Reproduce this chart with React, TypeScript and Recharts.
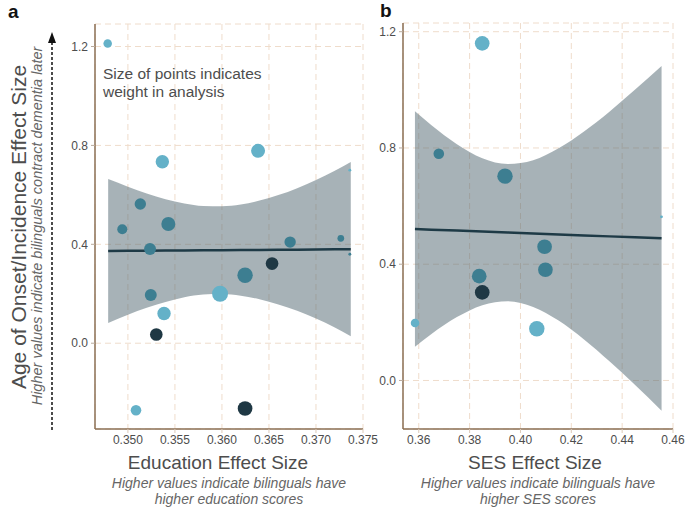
import React from 'react';
import { ComposedChart, Area, Line, Scatter, XAxis, YAxis, CartesianGrid } from 'recharts';

const FONT = '"Liberation Sans", Arial, Helvetica, sans-serif';

// panel a: education effect size vs age of onset effect size
const eduTicksX = [0.35, 0.355, 0.36, 0.365, 0.37, 0.375];
const eduBandX = [0.3479, 0.35, 0.352, 0.354, 0.356, 0.358, 0.36, 0.362, 0.364, 0.366, 0.368, 0.37, 0.372, 0.3737];
const eduBandLow = [0.082, 0.115, 0.143, 0.167, 0.186, 0.197, 0.199, 0.192, 0.178, 0.157, 0.131, 0.1, 0.064, 0.028];
const eduBandHigh = [0.664, 0.633, 0.605, 0.582, 0.565, 0.555, 0.554, 0.561, 0.577, 0.599, 0.627, 0.66, 0.697, 0.733];
const eduFit = [0.373, 0.3736, 0.3741, 0.3747, 0.3752, 0.3757, 0.3763, 0.3768, 0.3774, 0.3779, 0.3784, 0.379, 0.3795, 0.38];

const eduLight = [
  { x: 0.34785, y: 1.212, w: 2.6 },
  { x: 0.35366, y: 0.734, w: 6.4 },
  { x: 0.36384, y: 0.778, w: 7 },
  { x: 0.3598, y: 0.2, w: 9.1 },
  { x: 0.35384, y: 0.12, w: 6.4 },
  { x: 0.35086, y: -0.271, w: 4 },
  { x: 0.3736, y: 0.7, w: 0.3 },
];
const eduTeal = [
  { x: 0.35132, y: 0.563, w: 4.6 },
  { x: 0.3494, y: 0.461, w: 3.6 },
  { x: 0.3543, y: 0.482, w: 7 },
  { x: 0.35235, y: 0.381, w: 5.1 },
  { x: 0.36725, y: 0.409, w: 4.6 },
  { x: 0.36246, y: 0.275, w: 8.5 },
  { x: 0.35243, y: 0.195, w: 5.1 },
  { x: 0.37264, y: 0.424, w: 1.6 },
  { x: 0.3736, y: 0.36, w: 0.3 },
];
const eduDark = [
  { x: 0.36533, y: 0.322, w: 5.7 },
  { x: 0.35302, y: 0.035, w: 5.7 },
  { x: 0.36246, y: -0.264, w: 7.7 },
];

// panel b: SES effect size
const sesTicksX = [0.36, 0.38, 0.4, 0.42, 0.44, 0.46];
const sesBandX = [0.3585, 0.365, 0.375, 0.385, 0.395, 0.405, 0.415, 0.425, 0.435, 0.445, 0.4555];
const sesBandLow = [0.116, 0.16, 0.218, 0.259, 0.273, 0.253, 0.206, 0.141, 0.066, -0.015, -0.104];
const sesBandHigh = [0.926, 0.878, 0.813, 0.765, 0.745, 0.758, 0.799, 0.857, 0.925, 1.0, 1.082];
const sesFit = [0.521, 0.5189, 0.5156, 0.5123, 0.509, 0.5057, 0.5024, 0.4991, 0.4958, 0.4925, 0.489];

const sesLight = [
  { x: 0.38496, y: 1.16, w: 7.7 },
  { x: 0.45546, y: 0.563, w: 0.3 },
  { x: 0.35853, y: 0.198, w: 2.6 },
  { x: 0.40643, y: 0.178, w: 8.5 },
];
const sesTeal = [
  { x: 0.36788, y: 0.78, w: 4 },
  { x: 0.39392, y: 0.703, w: 8.5 },
  { x: 0.40949, y: 0.46, w: 7.7 },
  { x: 0.40982, y: 0.381, w: 7.7 },
  { x: 0.38378, y: 0.359, w: 7.7 },
];
const sesDark = [{ x: 0.38496, y: 0.303, w: 7.7 }];

const yTicks = [0, 0.4, 0.8, 1.2];

const LIGHT = '#64b1c8';
const TEAL = '#3d7e91';
const DARK = '#1f3844';
const AXIS = '#8b6f55';
const TEXT = '#4d4d4d';

const radius = (w: number) => Math.sqrt(w * 7);

function dot(color: string) {
  return (p: any) => <circle cx={p.cx} cy={p.cy} r={radius(p.payload.w)} fill={color} />;
}

function buildRows(xs: number[], lo: number[], hi: number[], fit: number[]) {
  return xs.map((x, i) => ({ x, range: [lo[i], hi[i]], fit: fit[i] }));
}

interface PanelProps {
  rows: any[];
  light: any[];
  teal: any[];
  dark: any[];
  xDomain: [number, number];
  xTicks: number[];
  xDigits: number;
  yDomain: [number, number];
  width: number;
  margin: { top: number; right: number; bottom: number; left: number };
}

function Panel({ rows, light, teal, dark, xDomain, xTicks, xDigits, yDomain, width, margin }: PanelProps) {
  const tick = { fontSize: 12, fill: TEXT, fontFamily: FONT };
  return (
    <ComposedChart width={width} height={510} data={rows} margin={margin}>
      <CartesianGrid strokeDasharray="6 4" stroke="#efdccb" />
      <XAxis
        type="number"
        dataKey="x"
        domain={xDomain}
        ticks={xTicks}
        interval={0}
        allowDataOverflow
        tickFormatter={(v) => v.toFixed(xDigits)}
        tick={tick}
        tickSize={4}
        tickMargin={2}
        tickLine={{ stroke: '#dccab9' }}
        axisLine={{ stroke: AXIS, strokeWidth: 1.5 }}
        height={20}
      />
      <YAxis
        type="number"
        domain={yDomain}
        ticks={yTicks}
        interval={0}
        allowDataOverflow
        tickFormatter={(v) => v.toFixed(1)}
        tick={tick}
        tickSize={4}
        tickMargin={3}
        tickLine={{ stroke: '#b9aa9c' }}
        axisLine={{ stroke: AXIS, strokeWidth: 1.5 }}
        width={40}
      />
      <Area
        dataKey="range"
        type="monotone"
        stroke="none"
        fill="#4f6570"
        fillOpacity={0.5}
        dot={false}
        activeDot={false}
        isAnimationActive={false}
      />
      <Line
        dataKey="fit"
        type="linear"
        stroke="#1e3a46"
        strokeWidth={2.5}
        dot={false}
        activeDot={false}
        isAnimationActive={false}
      />
      <Scatter data={light} dataKey="y" shape={dot(LIGHT)} isAnimationActive={false} />
      <Scatter data={teal} dataKey="y" shape={dot(TEAL)} isAnimationActive={false} />
      <Scatter data={dark} dataKey="y" shape={dot(DARK)} isAnimationActive={false} />
    </ComposedChart>
  );
}

export default function App() {
  const eduRows = buildRows(eduBandX, eduBandLow, eduBandHigh, eduFit);
  const sesRows = buildRows(sesBandX, sesBandLow, sesBandHigh, sesFit);
  return (
    <div style={{ position: 'absolute', left: 0, top: 0, width: 685, height: 510, background: '#fff', overflow: 'hidden' }}>
      <div style={{ position: 'absolute', left: 0, top: 0 }}>
        <Panel
          rows={eduRows}
          light={eduLight}
          teal={eduTeal}
          dark={eduDark}
          xDomain={[0.3465, 0.375]}
          xTicks={eduTicksX}
          xDigits={3}
          yDomain={[-0.347, 1.291]}
          width={380}
          margin={{ top: 24, right: 17, bottom: 61, left: 55 }}
        />
      </div>
      <div style={{ position: 'absolute', left: 340, top: 0 }}>
        <Panel
          rows={sesRows}
          light={sesLight}
          teal={sesTeal}
          dark={sesDark}
          xDomain={[0.3538, 0.46]}
          xTicks={sesTicksX}
          xDigits={2}
          yDomain={[-0.167, 1.23]}
          width={345}
          margin={{ top: 23, right: 12, bottom: 61, left: 23 }}
        />
      </div>
      <svg width={685} height={510} style={{ position: 'absolute', left: 0, top: 0, pointerEvents: 'none' }} fontFamily={FONT}>
        <text x={8} y={18} fontSize={19} fontWeight="bold" fill="#111">a</text>
        <text x={380} y={17} fontSize={19} fontWeight="bold" fill="#111">b</text>
        <text x={103} y={79} fontSize={15.5} fill={TEXT}>Size of points indicates</text>
        <text x={103} y={97} fontSize={15.5} fill={TEXT}>weight in analysis</text>
        <text transform="translate(26,227) rotate(-90)" textAnchor="middle" fontSize={21} fill={TEXT}>
          Age of Onset/Incidence Effect Size
        </text>
        <text transform="translate(42,226) rotate(-90)" textAnchor="middle" fontSize={14.5} fontStyle="italic" fill="#666">
          Higher values indicate bilinguals contract dementia later
        </text>
        <line x1={52} y1={430} x2={52} y2={42} stroke="#111" strokeWidth={1.5} strokeDasharray="3 2" />
        <polygon points="52,32 48,43 56,43" fill="#111" />
        <text x={218} y={469} textAnchor="middle" fontSize={19} fill={TEXT}>Education Effect Size</text>
        <text x={229} y={488} textAnchor="middle" fontSize={14} fontStyle="italic" fill="#666">
          Higher values indicate bilinguals have
        </text>
        <text x={229} y={504} textAnchor="middle" fontSize={14} fontStyle="italic" fill="#666">
          higher education scores
        </text>
        <text x={535} y={469} textAnchor="middle" fontSize={19} fill={TEXT}>SES Effect Size</text>
        <text x={538} y={488} textAnchor="middle" fontSize={14} fontStyle="italic" fill="#666">
          Higher values indicate bilinguals have
        </text>
        <text x={538} y={504} textAnchor="middle" fontSize={14} fontStyle="italic" fill="#666">
          higher SES scores
        </text>
      </svg>
    </div>
  );
}
